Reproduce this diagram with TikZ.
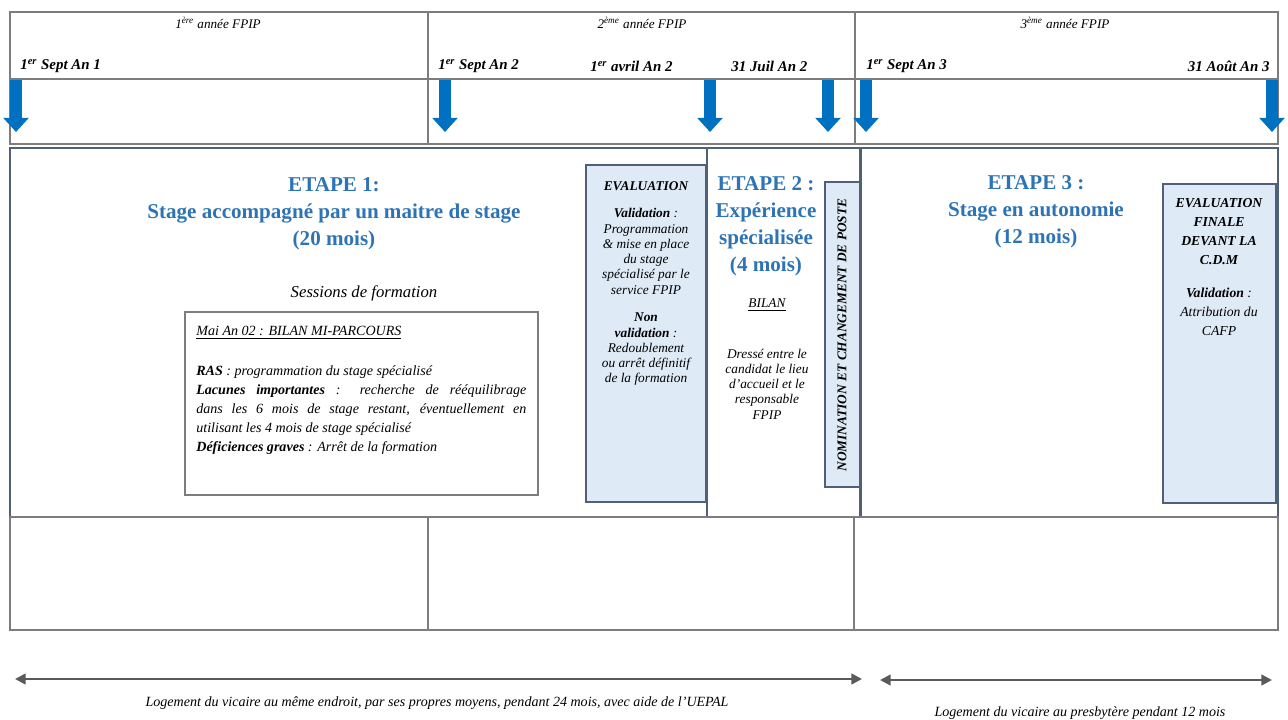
\documentclass[tikz,border=0pt]{standalone}
\usepackage{fontspec}
\setmainfont{Liberation Serif}
\usetikzlibrary{arrows.meta}

\newcommand{\figyearfont}{\fontsize{7.5}{9}\selectfont\itshape}
\newcommand{\figdatefont}{\fontsize{8.5}{10}\selectfont\bfseries\itshape}
\newcommand{\figtitlefont}{\fontsize{12}{15.5}\selectfont\bfseries}
\newcommand{\figboxfont}{\fontsize{7.6}{8.7}\selectfont\itshape}
\newcommand{\figmidfont}{\fontsize{8}{10.8}\selectfont\itshape}
\newcommand{\fignomfont}{\fontsize{7.6}{8}\selectfont\bfseries\itshape}
\newcommand{\figstayfont}{\fontsize{8}{10}\selectfont\itshape}

\begin{document}
\begin{tikzpicture}[x=0.02cm, y=-0.02cm,
  gridline/.style={draw=gridgray, line width=1.1pt},
  stagebox/.style={draw=boxslate, line width=0.7pt},
  evalbox/.style={stagebox, fill=evalfill},
  datearrow/.style={draw=arrowblue, line width=6.6pt, -{Triangle[length=8pt,width=14pt]}},
  stayarrow/.style={draw=staygray, line width=1.3pt, {Triangle[length=6pt,width=6pt]}-{Triangle[length=6pt,width=6pt]}},
  yearlbl/.style={font=\figyearfont},
  datelbl/.style={font=\figdatefont, inner sep=0pt},
  steptitle/.style={font=\figtitlefont, text=titleblue, align=center},
  boxtext/.style={font=\figboxfont, align=center, inner sep=0pt}]
\definecolor{gridgray}{RGB}{125,125,125}
\definecolor{boxslate}{RGB}{80,96,120}
\definecolor{evalfill}{RGB}{222,235,247}
\definecolor{arrowblue}{RGB}{0,112,192}
\definecolor{titleblue}{RGB}{46,116,181}
\definecolor{staygray}{RGB}{90,90,90}
\useasboundingbox (0,0) rectangle (1288,720);
% Top table: years and dates
\draw[gridline] (10,12) rectangle (1278,144);
\draw[gridline] (10,79) -- (1278,79);
\draw[gridline] (428,12) -- (428,144);
\draw[gridline] (855,12) -- (855,144);
\node[yearlbl] (yr1) at (218,23) {1\textsuperscript{ère} année FPIP};
\node[yearlbl] (yr2) at (642,23) {2\textsuperscript{ème} année FPIP};
\node[yearlbl] (yr3) at (1065,23) {3\textsuperscript{ème} année FPIP};
\node[datelbl, anchor=west] (dt1) at (20,66) {1\textsuperscript{er} Sept An 1};
\node[datelbl, anchor=west] (dt2) at (438,66) {1\textsuperscript{er} Sept An 2};
\node[datelbl, anchor=west] (dt3) at (590,66) {1\textsuperscript{er} avril An 2};
\node[datelbl, anchor=west] (dt4) at (731,66) {31 Juil An 2};
\node[datelbl, anchor=west] (dt5) at (866,66) {1\textsuperscript{er} Sept An 3};
\node[datelbl, anchor=east] (dt6) at (1270,66) {31 Août An 3};
% Date arrows
\foreach \x in {16,445,710,828,866,1272}
  \draw[datearrow] (\x,80) -- (\x,132);
% Stage boxes
\draw[stagebox] (10,148) rectangle (707,517);
\draw[stagebox] (707,148) rectangle (860,517);
\draw[stagebox] (861,148) rectangle (1278,517);
\draw[evalbox] (586,165) rectangle (706,502);
\draw[evalbox] (825,182) rectangle (860,487);
\draw[evalbox] (1163,184) rectangle (1276,503);
% Etape 1
\node[steptitle] (et1) at (334,214) {ETAPE 1:\\Stage accompagné par un maitre de stage\\(20 mois)};
\node[font=\fontsize{9.5}{11}\selectfont\itshape] (sess) at (364,293) {Sessions de formation};
\draw[gridline, line width=0.8pt] (185,312) rectangle (538,495);
\node[font=\figmidfont, anchor=north west, text width=6.6cm, align=justify, inner sep=0pt] (bilan1) at (196,326) {%
  \underline{Mai An 02 : BILAN MI-PARCOURS}\par\vspace{12pt}
  \textbf{RAS} : programmation du stage spécialisé\par
  \textbf{Lacunes importantes} : recherche de rééquilibrage\linebreak
  dans les 6 mois de stage restant, éventuellement en\linebreak
  utilisant les 4 mois de stage spécialisé\par
  \textbf{Déficiences graves} : Arrêt de la formation};
\node[boxtext, anchor=north] (eval1) at (646,181) {%
  \textbf{EVALUATION}\\[7pt]
  \textbf{Validation} :\\Programmation\\\& mise en place\\du stage\\spécialisé par le\\service FPIP\\[7pt]
  \textbf{Non}\\\textbf{validation} :\\Redoublement\\ou arrêt définitif\\de la formation};
% Etape 2
\node[steptitle, font=\fontsize{12}{15.3}\selectfont\bfseries] (et2) at (766,226) {ETAPE 2 :\\Expérience\\spécialisée\\(4 mois)};
\node[boxtext] (bil2) at (767,305) {\underline{BILAN}};
\node[boxtext] (dres) at (767,384) {Dressé entre le\\candidat le lieu\\d'accueil et le\\responsable\\FPIP};
\node[font=\fignomfont, rotate=90] (nom) at (842,335) {NOMINATION ET CHANGEMENT DE POSTE};
% Etape 3
\node[steptitle] (et3) at (1036,212) {ETAPE 3 :\\Stage en autonomie\\(12 mois)};
\node[boxtext, anchor=north, font=\fontsize{7.8}{10.8}\selectfont\itshape] (eval3) at (1219,198) {%
  \textbf{EVALUATION}\\\textbf{FINALE}\\\textbf{DEVANT LA}\\\textbf{C.D.M}\\[8pt]
  \textbf{Validation} :\\Attribution du\\CAFP};
% Bottom table
\draw[gridline] (10,517) rectangle (1278,630);
\draw[gridline] (428,517) -- (428,630);
\draw[gridline] (854,517) -- (854,630);
% Housing
\coordinate (h1a) at (15,679);
\coordinate (h1b) at (862,679);
\coordinate (h2a) at (880,680);
\coordinate (h2b) at (1272,680);
\draw[stayarrow] (h1a) -- (h1b);
\draw[stayarrow] (h2a) -- (h2b);
\node[font=\figstayfont] (log1) at (437,703) {Logement du vicaire au même endroit, par ses propres moyens, pendant 24 mois, avec aide de l'UEPAL};
\node[font=\figstayfont] (log2) at (1080,713) {Logement du vicaire au presbytère pendant 12 mois};
\end{tikzpicture}
\end{document}
